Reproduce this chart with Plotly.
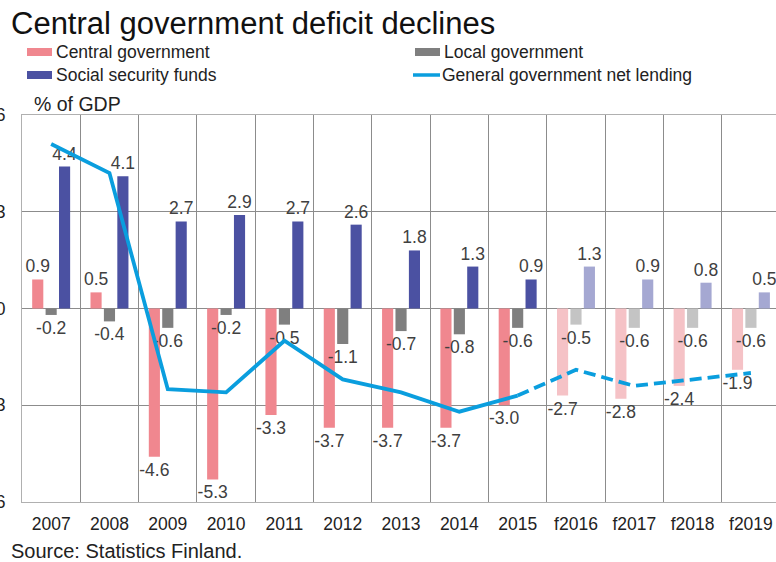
import plotly.graph_objects as go

categories = ["2007", "2008", "2009", "2010", "2011", "2012", "2013", "2014", "2015",
              "f2016", "f2017", "f2018", "f2019"]
central = [0.9, 0.5, -4.6, -5.3, -3.3, -3.7, -3.7, -3.7, -3.0, -2.7, -2.8, -2.4, -1.9]
local = [-0.2, -0.4, -0.6, -0.2, -0.5, -1.1, -0.7, -0.8, -0.6, -0.5, -0.6, -0.6, -0.6]
social = [4.4, 4.1, 2.7, 2.9, 2.7, 2.6, 1.8, 1.3, 0.9, 1.3, 0.9, 0.8, 0.5]
net_lending = [5.1, 4.2, -2.5, -2.6, -1.0, -2.2, -2.6, -3.2, -2.7, -1.9, -2.4, -2.2, -2.0]
forecast = [c.startswith("f") for c in categories]

W, H = 776, 562
L, T, R, B = 22, 115, 0, 60
PW, PH = W - L - R, H - T - B
FONT = "Liberation Sans, Arial, sans-serif"


def px2x(px):
    return (px - L) / PW


def py2y(py):
    return (H - B - py) / PH


def colors(base, light):
    return [light if f else base for f in forecast]


fig = go.Figure()
bar_text = dict(size=17.5, color="#404040", family=FONT)
for name, vals, base, light in [
    ("Central government", central, "#f0878f", "#f5c2c6"),
    ("Local government", local, "#7f7f7f", "#c4c4c4"),
    ("Social security funds", social, "#4b51a2", "#a5a8d2"),
]:
    fig.add_trace(go.Bar(
        x=categories, y=vals, name=name,
        marker=dict(color=colors(base, light), line=dict(width=0)),
        texttemplate="%{y:.1f}", textposition="outside",
        textfont=bar_text, constraintext="none", cliponaxis=False,
        showlegend=False,
    ))

n_actual = sum(1 for f in forecast if not f)
fig.add_trace(go.Scatter(
    x=categories[:n_actual], y=net_lending[:n_actual], mode="lines",
    line=dict(color="#0a9ede", width=3.8), showlegend=False,
))
fig.add_trace(go.Scatter(
    x=categories[n_actual - 1:], y=net_lending[n_actual - 1:], mode="lines",
    line=dict(color="#0a9ede", width=3.8, dash="12px,6px"), showlegend=False,
))

grid = "#8c8c8c"
fig.update_layout(
    width=W, height=H,
    margin=dict(l=L, r=R, t=T, b=B, autoexpand=False),
    paper_bgcolor="white", plot_bgcolor="white",
    barmode="group", bargap=0.31, bargroupgap=0.17,
    font=dict(family=FONT, color="#222222"),
    xaxis=dict(
        type="category", range=[-0.5, 12.43], tickson="boundaries",
        showgrid=True, gridcolor=grid, gridwidth=1,
        showline=True, linecolor="#b0b0b0", mirror=True,
        ticks="", tickfont=dict(size=17.5, color="#222222"), ticklabelstandoff=6,
        automargin=False,
    ),
    yaxis=dict(
        range=[-6, 6], tickvals=[-6, -3, 0, 3, 6],
        showgrid=True, gridcolor=grid, gridwidth=1,
        zeroline=True, zerolinecolor=grid, zerolinewidth=1,
        showline=True, linecolor="#b0b0b0", mirror=True,
        ticks="", tickfont=dict(size=17.5, color="#222222"), ticklabelstandoff=12,
        automargin=False,
    ),
)

shapes = []
annotations = []
annotations.append(dict(
    text="Central government deficit declines", xref="paper", yref="paper",
    x=px2x(9), y=py2y(24), xanchor="left", yanchor="middle", showarrow=False,
    font=dict(size=31, color="#111111", family=FONT),
))
legend_items = [
    ("Central government", "#f0878f", "bar", 27, 52),
    ("Social security funds", "#4b51a2", "bar", 27, 75),
    ("Local government", "#7f7f7f", "bar", 415, 52),
    ("General government net lending", "#0a9ede", "line", 413, 75),
]
for text, col, kind, x0, yc in legend_items:
    if kind == "bar":
        shapes.append(dict(type="rect", xref="paper", yref="paper",
                           x0=px2x(x0), x1=px2x(x0 + 25), y0=py2y(yc - 4), y1=py2y(yc + 4),
                           fillcolor=col, line=dict(width=0)))
    else:
        shapes.append(dict(type="line", xref="paper", yref="paper",
                           x0=px2x(x0), x1=px2x(x0 + 27), y0=py2y(yc), y1=py2y(yc),
                           line=dict(color=col, width=3.5)))
    annotations.append(dict(
        text=text, xref="paper", yref="paper", x=px2x(x0 + 27), y=py2y(yc),
        xanchor="left", yanchor="middle", showarrow=False,
        font=dict(size=17.5, color="#222222", family=FONT),
    ))
annotations.append(dict(
    text="% of GDP", xref="paper", yref="paper", x=px2x(32), y=py2y(104),
    xanchor="left", yanchor="middle", showarrow=False,
    font=dict(size=19.5, color="#222222", family=FONT),
))
annotations.append(dict(
    text="Source: Statistics Finland.", xref="paper", yref="paper", x=px2x(9), y=py2y(551),
    xanchor="left", yanchor="middle", showarrow=False,
    font=dict(size=20, color="#222222", family=FONT),
))
fig.update_layout(shapes=shapes, annotations=annotations)

fig.write_html("out.html")
